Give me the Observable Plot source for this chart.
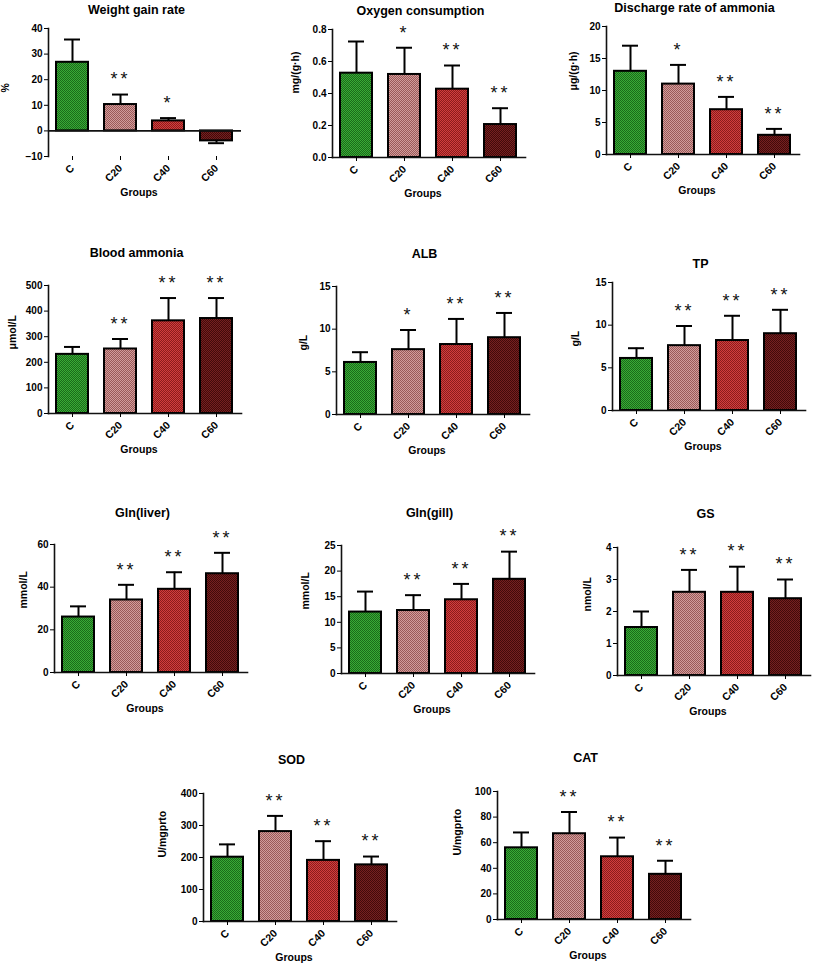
<!DOCTYPE html>
<html>
<head>
<meta charset="utf-8">
<script src="https://cdn.jsdelivr.net/npm/d3@7"></script>
<script src="https://cdn.jsdelivr.net/npm/@observablehq/plot@0.6"></script>
<style>
  html, body { margin: 0; padding: 0; background: #fff; overflow: hidden; }
  #root { position: relative; width: 813px; height: 963px; font-family: "Liberation Sans", Arial, sans-serif; }
  #root svg.panel { position: absolute; }
</style>
</head>
<body>
<svg width="0" height="0" style="position:absolute">
  <defs id="patdefs"></defs>
</svg>
<div id="root"></div>
<script>
// ---------------- DATA ----------------
const groups = ["C", "C20", "C40", "C60"];

const titles = ["Weight gain rate", "Oxygen consumption", "Discharge rate of ammonia",
  "Blood ammonia", "ALB", "TP", "Gln(liver)", "Gln(gill)", "GS", "SOD", "CAT"];
const units = ["%", "mg/(g·h)", "μg/(g·h)", "μmol/L", "g/L", "g/L", "mmol/L", "mmol/L",
  "nmol/L", "U/mgprto", "U/mgprto"];
const xLabel = "Groups";

const weightGainMean = [26.8, 10.3, 3.9, -3.9];
const weightGainSD   = [8.9, 3.9, 1.1, 0.9];
const weightGainSig  = ["", "**", "*", ""];

const oxygenMean = [0.527, 0.519, 0.427, 0.206];
const oxygenSD   = [0.198, 0.167, 0.148, 0.102];
const oxygenSig  = ["", "*", "**", "**"];

const dischargeMean = [13, 11, 7, 3];
const dischargeSD   = [4, 3, 2, 1];
const dischargeSig  = ["", "*", "**", "**"];

const bloodMean = [231, 252, 362, 371];
const bloodSD   = [29, 39, 89, 80];
const bloodSig  = ["", "**", "**", "**"];

const albMean = [6.1, 7.6, 8.2, 9.0];
const albSD   = [1.2, 2.3, 3.0, 2.9];
const albSig  = ["", "*", "**", "**"];

const tpMean = [6.1, 7.6, 8.2, 9.0];
const tpSD   = [1.2, 2.3, 2.9, 2.8];
const tpSig  = ["", "**", "**", "**"];

const glnLiverMean = [26, 34, 39, 46.3];
const glnLiverSD   = [5, 7.1, 8, 9.8];
const glnLiverSig  = ["", "**", "**", "**"];

const glnGillMean = [12, 12.3, 14.4, 18.4];
const glnGillSD   = [4, 3, 3.1, 5.4];
const glnGillSig  = ["", "**", "**", "**"];

const gsMean = [1.5, 2.6, 2.6, 2.4];
const gsSD   = [0.5, 0.7, 0.8, 0.6];
const gsSig  = ["", "**", "**", "**"];

const sodMean = [201, 281, 191, 177];
const sodSD   = [40, 49, 60, 26];
const sodSig  = ["", "**", "**", "**"];

const catMean = [56, 67, 49, 35.3];
const catSD   = [12, 17, 15, 10.6];
const catSig  = ["", "**", "**", "**"];

// axis tick labels
const yMins  = [-10, 0, 0, 0, 0, 0, 0, 0, 0, 0, 0];
const yMaxs  = [40, 0.8, 20, 500, 15, 15, 60, 25, 4, 400, 100];
const ySteps = [10, 0.2, 5, 100, 5, 5, 20, 5, 1, 100, 20];

// ---------------- STYLE / LAYOUT ----------------
const groupColors = [
  {light: "#3aaa36", dark: "#1a6a1a"},
  {light: "#d29c9b", dark: "#9a5a59"},
  {light: "#d23e3e", dark: "#8c1c1c"},
  {light: "#762020", dark: "#420a0a"}
];
// axisX, yTop (pixel of frame top), title offset, y-label offset
const layout = [
  {ax: 48,  top: 28,  tdy: -19, ly: 43},
  {ax: 332, top: 29,  tdy: -19, ly: 37},
  {ax: 606, top: 26,  tdy: -19, ly: 33},
  {ax: 48,  top: 285, tdy: -33, ly: 36},
  {ax: 336, top: 286, tdy: -33, ly: 33},
  {ax: 612, top: 282, tdy: -19, ly: 37},
  {ax: 54,  top: 544, tdy: -32, ly: 31},
  {ax: 341, top: 545, tdy: -33, ly: 36},
  {ax: 617, top: 547, tdy: -34, ly: 30},
  {ax: 203, top: 793, tdy: -34, ly: 41},
  {ax: 497, top: 791, tdy: -34, ly: 40}
];
const FW = 193, FH = 128, ML = 60, MR = 14, MT = 50, MB = 52;

// patterns
const defs = d3.select("#patdefs");
groupColors.forEach((c, i) => {
  const p = defs.append("pattern").attr("id", "pat" + i)
    .attr("width", 2).attr("height", 2).attr("patternUnits", "userSpaceOnUse");
  p.append("rect").attr("width", 2).attr("height", 2).attr("fill", c.light);
  p.append("rect").attr("width", 1).attr("height", 1).attr("fill", c.dark);
  p.append("rect").attr("x", 1).attr("y", 1).attr("width", 1).attr("height", 1).attr("fill", c.dark);
});

const means = [weightGainMean, oxygenMean, dischargeMean, bloodMean, albMean, tpMean,
  glnLiverMean, glnGillMean, gsMean, sodMean, catMean];
const sds = [weightGainSD, oxygenSD, dischargeSD, bloodSD, albSD, tpSD,
  glnLiverSD, glnGillSD, gsSD, sodSD, catSD];
const sigs = [weightGainSig, oxygenSig, dischargeSig, bloodSig, albSig, tpSig,
  glnLiverSig, glnGillSig, gsSig, sodSig, catSig];

const root = document.getElementById("root");

titles.forEach((title, k) => {
  const L = layout[k];
  const data = groups.map((g, i) => {
    const m = means[k][i], s = sds[k][i];
    const sign = m < 0 ? -1 : 1;
    return {g, m, end: m + sign * s, sig: sigs[k][i], fill: `url(#pat${i})`};
  });
  const ticks = d3.range(yMins[k], yMaxs[k] + ySteps[k] / 2, ySteps[k]);
  const fmt = ySteps[k] < 1 ? d3.format(".1f") : d3.format("d");
  const marks = [
    Plot.barY(data, {x: "g", y1: 0, y2: "m", fill: "fill", stroke: "#000", strokeWidth: 2}),
    Plot.ruleX(data, {x: "g", y1: "m", y2: "end", stroke: "#000", strokeWidth: 2}),
    Plot.tickY(data, {x: "g", y: "end", stroke: "#000", strokeWidth: 2, insetLeft: 8, insetRight: 8}),
    Plot.text(data.filter(d => d.sig), {x: "g", y: "end", text: "sig", dy: -15, fontSize: 18,
      fontWeight: "normal", lineAnchor: "middle", fill: "#111"}),
    Plot.frame({anchor: "left", stroke: "#111", strokeWidth: 1.6}),
    yMins[k] < 0 ? Plot.ruleY([0], {stroke: "#111", strokeWidth: 1.6})
                 : Plot.frame({anchor: "bottom", stroke: "#111", strokeWidth: 1.6}),
    Plot.axisY({ticks, tickFormat: fmt, tickSize: 4, tickPadding: 2, label: null, fontSize: 10}),
    Plot.axisX({tickRotate: -45, tickSize: 4, tickPadding: 6, label: null, fontSize: 10.5}),
    Plot.text([title], {frameAnchor: "top", lineAnchor: "middle", dy: L.tdy, dx: -8.5, fontSize: 12.5}),
    Plot.text([xLabel], {frameAnchor: "bottom", lineAnchor: "middle", dy: 36, dx: -6, fontSize: 10.5}),
    Plot.text([units[k]], {frameAnchor: "left", lineAnchor: "middle", rotate: -90, dx: -L.ly, fontSize: 10.5})
  ];
  const svg = Plot.plot({
    width: ML + FW + MR, height: MT + FH + MB,
    marginLeft: ML, marginRight: MR, marginTop: MT, marginBottom: MB,
    x: {domain: groups, paddingInner: 0.333, paddingOuter: 0.167},
    y: {domain: [yMins[k], yMaxs[k]]},
    color: {type: "identity"},
    style: {background: "transparent", fontFamily: "Liberation Sans, Arial, sans-serif",
      fontSize: "10px", fontWeight: "bold", color: "#000", overflow: "visible"},
    marks
  });
  svg.classList.add("panel");
  svg.style.left = (L.ax - ML) + "px";
  svg.style.top = (L.top - MT) + "px";
  d3.select(svg).selectAll("text").filter(function() { return /^\*+$/.test(this.textContent); })
    .style("letter-spacing", "3px");
  root.appendChild(svg);
});
</script>
</body>
</html>
